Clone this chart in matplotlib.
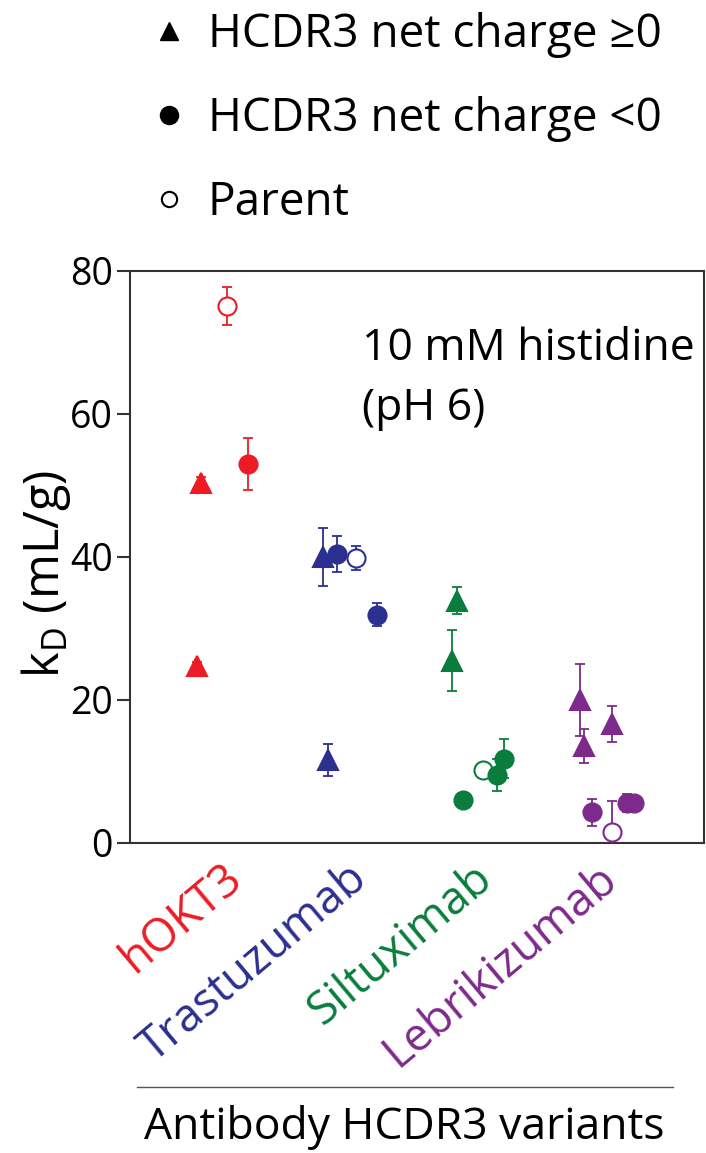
import matplotlib
matplotlib.use("Agg")
import matplotlib.pyplot as plt
from matplotlib.lines import Line2D
from matplotlib.transforms import ScaledTranslation

plt.rcParams['font.family'] = ['Open Sans', 'DejaVu Sans']

groups = ['hOKT3', 'Trastuzumab', 'Siltuximab', 'Lebrikizumab']
colors = ['#ED1C24', '#2B2F8F', '#0A7D3D', '#7D2A8C']

# HCDR3 net charge >= 0 (triangles)
tri_group = [0, 0, 1, 1, 2, 2, 3, 3, 3]
tri_jitter = [-0.19, -0.22, -0.21, -0.17, -0.14, -0.18, -0.15, -0.12, 0.10]
tri_kd = [50.4, 24.7, 40.0, 11.6, 33.9, 25.5, 20.0, 13.6, 16.6]
tri_err = [0.8, 0.6, 4.1, 2.3, 1.9, 4.3, 5.0, 2.4, 2.5]

# HCDR3 net charge < 0 (filled circles)
neg_group = [0, 1, 1, 2, 2, 2, 3, 3, 3]
neg_jitter = [0.19, -0.10, 0.22, -0.09, 0.18, 0.24, -0.06, 0.22, 0.28]
neg_kd = [53.0, 40.4, 31.9, 6.0, 9.5, 11.8, 4.3, 5.6, 5.6]
neg_err = [3.7, 2.5, 1.6, 0.4, 2.3, 2.7, 1.9, 1.3, 1.0]

# parent antibodies (open circles)
par_group = [0, 1, 2, 3]
par_jitter = [0.02, 0.05, 0.07, 0.10]
par_kd = [75.1, 39.9, 10.2, 1.5]
par_err = [2.7, 1.7, 0.4, 4.3]

fig = plt.figure(figsize=(7.06, 11.53), dpi=100)
ax = fig.add_axes([0.184, 0.2689, 0.813, 0.4961])


def draw(g, jit, kd, err, marker, filled, z):
    for gi, j, v, e in zip(g, jit, kd, err):
        c = colors[gi]
        ax.errorbar(gi + j, v, yerr=e, fmt='none', ecolor=c, elinewidth=1.3,
                    capsize=3.5, capthick=1.3, zorder=z)
        ax.plot(gi + j, v, marker=marker, markersize=13 if marker == 'o' else 14,
                color=c, markerfacecolor=c if filled else 'white',
                markeredgewidth=1.5, linestyle='none', zorder=z + 0.5, clip_on=False)


draw(tri_group, tri_jitter, tri_kd, tri_err, '^', True, 3)
draw(par_group, par_jitter, par_kd, par_err, 'o', False, 4)
draw(neg_group, neg_jitter, neg_kd, neg_err, 'o', True, 5)

ax.set_xlim(-0.76, 3.84)
ax.set_ylim(0, 80)
ax.set_yticks([0, 20, 40, 60, 80])
ax.tick_params(axis='y', labelsize=27, length=9.5, width=1.5, pad=3, color='#333333')
ax.set_xticks(range(len(groups)))
ax.set_xticklabels(groups, rotation=40, ha='right', va='center', rotation_mode='anchor', fontsize=33)
ax.tick_params(axis='x', length=0, pad=18)
shift = ScaledTranslation(0.12, -0.05, fig.dpi_scale_trans)
for lab, c in zip(ax.get_xticklabels(), colors):
    lab.set_color(c)
    lab.set_transform(lab.get_transform() + shift)
for sp in ax.spines.values():
    sp.set_linewidth(1.5)
    sp.set_color('#333333')

ax.set_ylabel(r'k$_\mathregular{D}$ (mL/g)', fontsize=35)
ax.yaxis.set_label_coords(-0.10, 0.47)

ax.text(0.405, 0.9025, '10 mM histidine\n(pH 6)', transform=ax.transAxes,
        fontsize=32, va='top', ha='left', linespacing=1.47)

handles = [
    Line2D([], [], marker='^', color='black', linestyle='none', markersize=13),
    Line2D([], [], marker='o', color='black', linestyle='none', markersize=13),
    Line2D([], [], marker='o', color='black', markerfacecolor='white', linestyle='none',
           markersize=11, markeredgewidth=1.5),
]
fig.legend(handles, ['HCDR3 net charge ≥0', 'HCDR3 net charge <0', 'Parent'],
           loc='upper left', bbox_to_anchor=(0.155, 1.025), frameon=False, fontsize=33,
           handlelength=0.8, handletextpad=0.45, labelspacing=0.82)

fig.add_artist(Line2D([0.194, 0.953], [0.0572, 0.0572], transform=fig.transFigure,
                      color='#555555', linewidth=1))
fig.text(0.572, 0.022, 'Antibody HCDR3 variants', fontsize=32, ha='center', va='center')

fig.savefig('out.png', dpi=100)
